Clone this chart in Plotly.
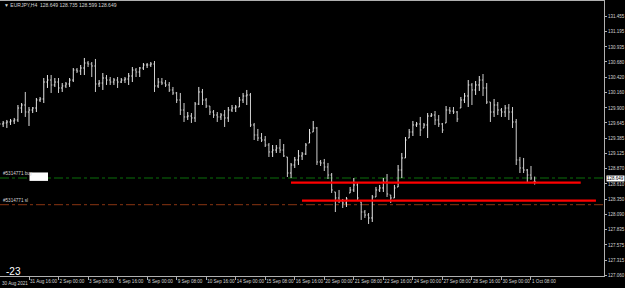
import plotly.graph_objects as go

# ---- data (EURJPY, H4) ----
bar_index = list(range(-8, 138))

opens = [
129.594,129.628,129.645,129.662,129.679,129.696,129.899,129.950,
129.831,129.865,129.899,130.035,130.052,130.340,130.374,130.290,130.340,130.239,
130.273,130.307,130.374,130.544,130.527,130.578,130.663,130.646,130.612,130.307,
130.323,130.408,130.374,130.340,130.374,130.340,130.374,130.391,130.442,130.544,
130.510,130.578,130.629,130.629,130.646,130.273,130.340,130.323,130.290,130.205,
130.154,130.035,129.865,129.747,129.763,129.730,129.967,130.171,130.035,129.933,
129.831,129.780,129.747,129.780,129.730,129.865,129.899,129.916,130.035,130.103,
130.120,129.611,129.441,129.390,129.356,129.271,129.153,129.186,129.220,129.186,
129.068,128.796,128.932,129.017,129.085,129.119,129.305,129.492,129.560,128.983,
128.966,128.898,128.762,128.474,128.372,128.321,128.287,128.457,128.508,128.593,
128.304,128.134,128.083,128.033,128.389,128.508,128.542,128.643,128.423,128.372,
128.559,128.847,129.051,129.390,129.492,129.611,129.628,129.560,129.611,129.763,
129.780,129.696,129.628,129.645,129.865,129.848,129.831,129.899,130.035,130.103,
130.290,130.205,130.290,130.374,130.239,130.001,129.831,129.950,129.865,129.831,
129.899,129.831,129.662,129.017,128.881,128.847,128.762,128.649,
]
highs = [
129.662,129.679,129.696,129.713,129.730,129.950,129.984,130.171,
129.916,129.916,130.069,130.086,130.408,130.459,130.459,130.408,130.408,130.323,
130.340,130.408,130.578,130.578,130.629,130.748,130.697,130.680,130.731,130.374,
130.493,130.459,130.425,130.408,130.425,130.408,130.425,130.493,130.595,130.578,
130.595,130.663,130.663,130.680,130.697,130.408,130.408,130.374,130.340,130.256,
130.171,130.154,129.984,129.831,129.814,130.001,130.256,130.222,130.069,129.933,
129.865,129.831,129.814,129.865,129.916,129.950,129.950,130.086,130.154,130.205,
130.154,129.645,129.543,129.475,129.424,129.305,129.271,129.271,129.373,129.288,
129.068,128.966,129.068,129.186,129.153,129.305,129.543,129.679,129.577,129.017,
129.034,128.966,128.796,128.474,128.508,128.355,128.389,128.559,128.711,128.643,
128.304,128.168,128.117,128.423,128.559,128.593,128.711,128.779,128.423,128.593,
128.932,129.136,129.407,129.543,129.679,129.662,129.747,129.645,129.814,129.814,
129.848,129.780,129.645,129.933,129.916,129.916,129.848,130.086,130.154,130.374,
130.323,130.357,130.442,130.476,130.323,130.001,130.052,130.001,129.899,129.950,
129.967,129.916,129.713,129.068,129.051,128.864,128.915,128.735,
]
lows = [
129.560,129.577,129.560,129.611,129.628,129.662,129.814,129.747,
129.594,129.814,129.831,130.001,129.984,130.239,130.154,130.256,130.154,130.171,
130.239,130.256,130.340,130.493,130.459,130.459,130.595,130.425,130.171,130.256,
130.205,130.290,130.290,130.290,130.239,130.323,130.323,130.290,130.340,130.425,
130.425,130.544,130.578,130.595,130.171,130.239,130.290,130.256,130.171,130.120,
129.984,129.780,129.662,129.696,129.645,129.662,129.950,129.950,129.899,129.780,
129.730,129.662,129.696,129.577,129.662,129.831,129.831,129.916,129.984,129.950,
129.577,129.356,129.339,129.322,129.237,129.068,129.068,129.136,129.136,129.068,
128.728,128.711,128.881,128.932,129.017,129.102,129.305,129.492,128.932,128.915,
128.830,128.694,128.457,128.134,128.287,128.202,128.219,128.457,128.474,128.338,
127.999,128.033,127.931,127.965,128.389,128.474,128.474,128.389,128.287,128.372,
128.559,128.711,129.051,129.390,129.424,129.577,129.424,129.560,129.390,129.747,
129.611,129.577,129.475,129.645,129.797,129.797,129.662,129.899,129.984,129.916,
129.950,130.120,130.188,130.103,129.967,129.662,129.747,129.780,129.747,129.747,
129.696,129.560,128.932,128.796,128.796,128.643,128.677,128.599,
]
closes = [
129.628,129.645,129.662,129.679,129.696,129.899,129.950,129.831,
129.865,129.899,130.035,130.052,130.340,130.374,130.290,130.340,130.239,130.273,
130.307,130.374,130.544,130.527,130.578,130.663,130.646,130.612,130.307,130.323,
130.408,130.374,130.340,130.374,130.340,130.374,130.391,130.442,130.544,130.510,
130.578,130.629,130.629,130.646,130.273,130.340,130.323,130.290,130.205,130.154,
130.035,129.865,129.747,129.763,129.730,129.967,130.171,130.035,129.933,129.831,
129.780,129.747,129.780,129.730,129.865,129.899,129.916,130.035,130.103,130.120,
129.611,129.441,129.390,129.356,129.271,129.153,129.186,129.220,129.186,129.085,
128.796,128.932,129.017,129.085,129.119,129.271,129.475,129.560,128.983,128.966,
128.898,128.762,128.508,128.372,128.321,128.287,128.355,128.508,128.593,128.372,
128.134,128.083,128.033,128.389,128.508,128.542,128.643,128.440,128.372,128.542,
128.847,129.051,129.356,129.492,129.611,129.628,129.526,129.611,129.763,129.780,
129.696,129.628,129.526,129.865,129.848,129.831,129.713,130.035,130.103,130.290,
130.205,130.290,130.374,130.239,130.001,129.831,129.950,129.865,129.831,129.899,
129.831,129.662,129.017,128.881,128.847,128.762,128.711,128.649,
]

x_tick_idx = [0, 8, 16, 24, 32, 40, 48, 56, 64, 72, 80, 88, 96, 104, 112, 120, 128, 136]
x_tick_text = ["31 Aug 16:00", "2 Sep 00:00", "3 Sep 08:00", "6 Sep 16:00", "8 Sep 00:00",
               "9 Sep 08:00", "10 Sep 16:00", "14 Sep 00:00", "15 Sep 08:00", "16 Sep 16:00",
               "20 Sep 00:00", "21 Sep 08:00", "22 Sep 16:00", "24 Sep 00:00", "27 Sep 08:00",
               "28 Sep 16:00", "30 Sep 00:00", "1 Oct 08:00"]
y_tick_vals = [131.455, 131.195, 130.935, 130.680, 130.420, 130.160, 129.900, 129.645, 129.385,
               129.125, 128.870, 128.610, 128.350, 128.090, 127.835, 127.575, 127.315, 127.060]
y_tick_text = ["131.455", "131.195", "130.935", "130.680", "130.420", "130.160", "129.900", "129.645",
               "129.385", "129.125", "128.870", "128.610", "128.350", "128.090", "127.835", "127.575",
               "127.315", "127.060"]

first_label = "30 Aug 2021"
header = "\u25bc EURJPY,H4  128.649 128.735 128.599 128.649"
current_price = 128.649
current_price_text = "128.649"
buy_level = 128.711
sl_level = 128.258
red_upper = {"y": 128.632, "x": [70.98, 149.47]}
red_lower = {"y": 128.326, "x": [73.96, 153.6]}
order_buy_label = "#5314771 buy"
order_sl_label = "#5314771 sl"
corner_text = "-23"

X_RANGE = [-7.857, 155.78]
Y_RANGE = [127.048, 131.715]
FONT = "Liberation Sans, Arial, sans-serif"
TXT = "#d4d4d4"

fig = go.Figure()
fig.add_trace(go.Ohlc(
    x=bar_index, open=opens, high=highs, low=lows, close=closes,
    increasing=dict(line=dict(color="#e6e6e6", width=1)),
    decreasing=dict(line=dict(color="#cfcfcf", width=1)),
    tickwidth=0.3, showlegend=False, hoverinfo="skip",
))
for lvl in (red_upper, red_lower):
    fig.add_trace(go.Scatter(x=lvl["x"], y=[lvl["y"], lvl["y"]], mode="lines",
                             line=dict(color="#ff0000", width=2.2),
                             showlegend=False, hoverinfo="skip"))

shapes = [
    dict(type="line", xref="paper", x0=0, x1=1, yref="y", y0=buy_level, y1=buy_level,
         line=dict(color="#0a6e0a", width=1, dash="dashdot"), layer="below"),
    dict(type="line", xref="paper", x0=0, x1=1, yref="y", y0=sl_level, y1=sl_level,
         line=dict(color="#6e2a0e", width=1.3, dash="dashdot"), layer="below"),
    dict(type="rect", xref="paper", x0=29.5 / 604, x1=48 / 604, yref="y", y0=128.662, y1=128.805,
         fillcolor="#ffffff", line=dict(width=0)),
]

annotations = [
    dict(text=header, xref="paper", yref="paper", x=0.004, y=0.984, xanchor="left", yanchor="middle",
         showarrow=False, font=dict(family=FONT, size=5, color=TXT)),
    dict(text=order_buy_label, xref="paper", yref="y", x=0.0017, y=buy_level, xanchor="left",
         yanchor="bottom", yshift=0, showarrow=False, font=dict(family=FONT, size=4.6, color=TXT)),
    dict(text=order_sl_label, xref="paper", yref="y", x=0.0017, y=sl_level, xanchor="left",
         yanchor="bottom", yshift=0, showarrow=False, font=dict(family=FONT, size=4.6, color=TXT)),
    dict(text=first_label, xref="paper", yref="paper", x=0.0, y=0, xanchor="left", yanchor="top",
         yshift=-3, showarrow=False, font=dict(family=FONT, size=4.6, color=TXT)),
    dict(text=current_price_text, xref="paper", yref="y", x=1, y=current_price,
         xanchor="left", yanchor="middle", xshift=2, yshift=3, showarrow=False, bgcolor="#ffffff",
         borderpad=0, font=dict(family=FONT, size=4.5, color="#000000")),
    dict(text=corner_text, xref="paper", yref="paper", x=0.006, y=0.018, xanchor="left",
         yanchor="middle", showarrow=False, font=dict(family=FONT, size=10, color="#ffffff")),
]

fig.update_layout(
    width=625, height=288,
    margin=dict(l=0, r=21, t=1, b=12, pad=0),
    paper_bgcolor="#000000", plot_bgcolor="#000000",
    shapes=shapes, annotations=annotations,
    xaxis=dict(range=X_RANGE, showgrid=False, zeroline=False, showline=True, linecolor="#b0b0b0",
               linewidth=1, mirror=True, ticks="outside", ticklen=3, tickcolor="#b0b0b0",
               tickvals=x_tick_idx, ticktext=x_tick_text, ticklabelposition="outside right",
               tickangle=0, automargin=False,
               tickfont=dict(family=FONT, size=4.6, color=TXT), rangeslider=dict(visible=False),
               fixedrange=True),
    yaxis=dict(range=Y_RANGE, side="right", showgrid=False, zeroline=False, showline=True,
               linecolor="#b0b0b0", linewidth=1, mirror=True, ticks="outside", ticklen=2,
               tickcolor="#b0b0b0", tickvals=y_tick_vals, ticktext=y_tick_text, automargin=False,
               tickfont=dict(family=FONT, size=4.5, color=TXT), fixedrange=True),
)

fig.write_html("out.html")
